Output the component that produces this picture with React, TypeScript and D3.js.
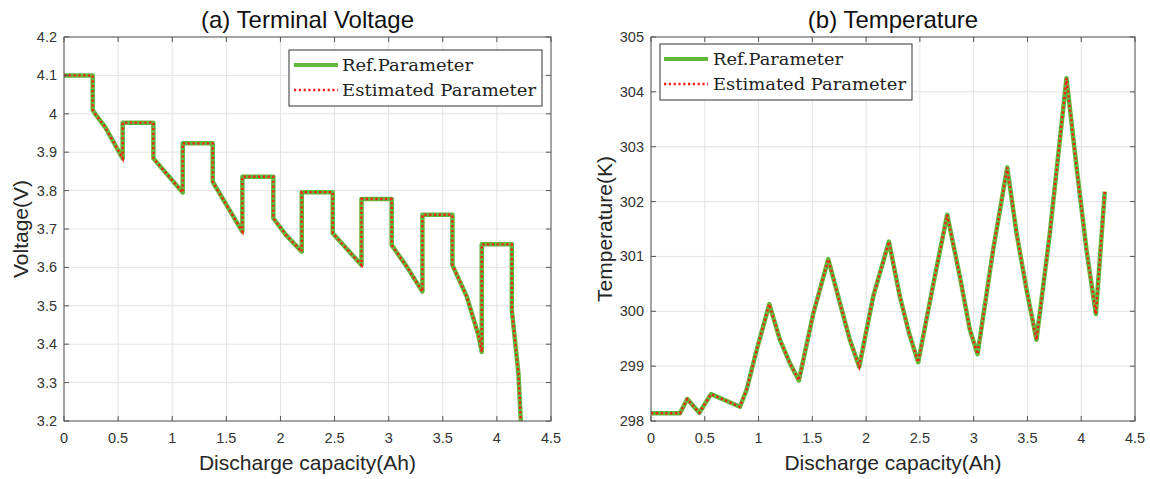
import React from "react";
import * as d3 from "d3";

// ---- Data ----
const voltX = [0, 0.265, 0.265, 0.30, 0.379, 0.542, 0.542, 0.826, 0.826, 1.097, 1.097, 1.374, 1.374, 1.648, 1.648, 1.934, 1.934, 2.058, 2.197, 2.197, 2.483, 2.483, 2.749, 2.749, 3.028, 3.028, 3.167, 3.312, 3.312, 3.589, 3.589, 3.722, 3.829, 3.860, 3.860, 4.138, 4.138, 4.199, 4.221];
const voltY = [4.1, 4.1, 4.01, 3.995, 3.966, 3.884, 3.977, 3.977, 3.884, 3.795, 3.923, 3.923, 3.823, 3.693, 3.836, 3.836, 3.728, 3.682, 3.641, 3.796, 3.796, 3.689, 3.606, 3.778, 3.778, 3.658, 3.602, 3.537, 3.737, 3.737, 3.606, 3.524, 3.424, 3.380, 3.660, 3.660, 3.489, 3.324, 3.2];

const tempX = [0, 0.27, 0.337, 0.449, 0.558, 0.827, 0.889, 0.982, 1.10, 1.199, 1.292, 1.375, 1.509, 1.648, 1.757, 1.849, 1.936, 2.066, 2.212, 2.314, 2.40, 2.484, 2.62, 2.754, 2.872, 2.965, 3.036, 3.181, 3.312, 3.399, 3.492, 3.584, 3.708, 3.863, 3.956, 4.049, 4.136, 4.219];
const tempY = [298.14, 298.14, 298.40, 298.15, 298.49, 298.26, 298.57, 299.29, 300.13, 299.48, 299.05, 298.74, 299.96, 300.95, 300.15, 299.48, 298.99, 300.27, 301.27, 300.27, 299.6, 299.07, 300.45, 301.76, 300.63, 299.66, 299.22, 301.12, 302.62, 301.42, 300.39, 299.48, 301.42, 304.25, 302.64, 301.12, 299.95, 302.18];

const xTicks = [0, 0.5, 1, 1.5, 2, 2.5, 3, 3.5, 4, 4.5];
const voltTicks = [3.2, 3.3, 3.4, 3.5, 3.6, 3.7, 3.8, 3.9, 4, 4.1, 4.2];
const tempTicks = [298, 299, 300, 301, 302, 303, 304, 305];
const legendLabels = ["Ref.Parameter", "Estimated Parameter"];

const SANS = "'Liberation Sans', Arial, Helvetica, sans-serif";
const SERIF = "'DejaVu Serif', 'Liberation Serif', serif";
const GREEN = "#62b83a";
const RED = "#ff1a1a";

type PanelProps = {
  id: string;
  left: number; right: number; top: number; bottom: number;
  xs: number[]; ys: number[];
  yDomain: [number, number];
  yTicks: number[];
  yFmt: (v: number) => string;
  title: string; yLabel: string; yLabelX: number;
  legend: { x0: number; y0: number; x1: number; y1: number; lx0: number; lx1: number; tx: number; r1: number; r2: number; w1: number; w2: number };
};

function Panel(p: PanelProps) {
  const x = d3.scaleLinear().domain([0, 4.5]).range([p.left, p.right]);
  const y = d3.scaleLinear().domain(p.yDomain).range([p.bottom, p.top]);
  const pts = p.xs.map((v, i) => [v, p.ys[i]] as [number, number]);
  const line = d3.line<[number, number]>().x(d => x(d[0])).y(d => y(d[1]));
  const path = line(pts) || "";
  const cx = (p.left + p.right) / 2;
  const cy = (p.top + p.bottom) / 2;
  const L = p.legend;
  const tl = 5;
  return (
    <g>
      <defs>
        <clipPath id={p.id}>
          <rect x={p.left} y={p.top} width={p.right - p.left} height={p.bottom - p.top} />
        </clipPath>
      </defs>
      <rect x={p.left} y={p.top} width={p.right - p.left} height={p.bottom - p.top} fill="#fff" />
      {xTicks.map(t => (
        <line key={"gx" + t} x1={x(t)} x2={x(t)} y1={p.top} y2={p.bottom} stroke="#e3e3e3" strokeWidth={1} />
      ))}
      {p.yTicks.map(t => (
        <line key={"gy" + t} x1={p.left} x2={p.right} y1={y(t)} y2={y(t)} stroke="#e3e3e3" strokeWidth={1} />
      ))}
      <g clipPath={`url(#${p.id})`}>
        <path d={path} fill="none" stroke={GREEN} strokeWidth={4.5} strokeLinejoin="round" />
        <path d={path} fill="none" stroke={RED} strokeWidth={2.4} strokeDasharray="2.2 2.6" />
      </g>
      <rect x={p.left} y={p.top} width={p.right - p.left} height={p.bottom - p.top} fill="none" stroke="#555" strokeWidth={1} />
      {xTicks.map(t => (
        <g key={"tx" + t}>
          <line x1={x(t)} x2={x(t)} y1={p.bottom} y2={p.bottom - tl} stroke="#555" />
          <line x1={x(t)} x2={x(t)} y1={p.top} y2={p.top + tl} stroke="#555" />
          <text x={x(t)} y={p.bottom + 22} textAnchor="middle" fontFamily={SANS} fontSize={14.5} fill="#333">{String(t)}</text>
        </g>
      ))}
      {p.yTicks.map(t => (
        <g key={"ty" + t}>
          <line x1={p.left} x2={p.left + tl} y1={y(t)} y2={y(t)} stroke="#555" />
          <line x1={p.right} x2={p.right - tl} y1={y(t)} y2={y(t)} stroke="#555" />
          <text x={p.left - 7} y={y(t) + 5} textAnchor="end" fontFamily={SANS} fontSize={14.5} fill="#333">{p.yFmt(t)}</text>
        </g>
      ))}
      <text x={cx} y={28} textAnchor="middle" fontFamily={SANS} fontSize={24} fill="#111">{p.title}</text>
      <text x={cx} y={470} textAnchor="middle" fontFamily={SANS} fontSize={21} fill="#262626">Discharge capacity(Ah)</text>
      <text transform={`translate(${p.yLabelX},${cy}) rotate(-90)`} textAnchor="middle" fontFamily={SANS} fontSize={21} fill="#262626">{p.yLabel}</text>
      <rect x={L.x0} y={L.y0} width={L.x1 - L.x0} height={L.y1 - L.y0} fill="#fff" stroke="#333" strokeWidth={1} />
      <line x1={L.lx0} x2={L.lx1} y1={L.r1} y2={L.r1} stroke={GREEN} strokeWidth={4} />
      <line x1={L.lx0} x2={L.lx1} y1={L.r2} y2={L.r2} stroke={RED} strokeWidth={2.4} strokeDasharray="2.2 2.6" />
      <text x={L.tx} y={L.r1 + 6} fontFamily={SERIF} fontSize={16.5} fill="#222" textLength={L.w1} lengthAdjust="spacingAndGlyphs">{legendLabels[0]}</text>
      <text x={L.tx} y={L.r2 + 6} fontFamily={SERIF} fontSize={16.5} fill="#222" textLength={L.w2} lengthAdjust="spacingAndGlyphs">{legendLabels[1]}</text>
    </g>
  );
}

export default function App() {
  return (
    <svg width={1150} height={479} style={{ position: "absolute", left: 0, top: 0, background: "#fff" }}>
      <rect x={0} y={0} width={1150} height={479} fill="#fff" />
      <Panel
        id="clipA"
        left={64} right={551} top={37} bottom={421}
        xs={voltX} ys={voltY}
        yDomain={[3.2, 4.2]}
        yTicks={voltTicks}
        yFmt={v => (Math.abs(v - 4) < 1e-9 ? "4" : v.toFixed(1))}
        title="(a) Terminal Voltage"
        yLabel="Voltage(V)"
        yLabelX={28}
        legend={{ x0: 289, y0: 50, x1: 542, y1: 106, lx0: 294, lx1: 338, tx: 342, r1: 65, r2: 90, w1: 131, w2: 194 }}
      />
      <Panel
        id="clipB"
        left={651} right={1135} top={37} bottom={421}
        xs={tempX} ys={tempY}
        yDomain={[298, 305]}
        yTicks={tempTicks}
        yFmt={v => String(v)}
        title="(b) Temperature"
        yLabel="Temperature(K)"
        yLabelX={612}
        legend={{ x0: 660, y0: 44, x1: 912, y1: 100, lx0: 664, lx1: 708, tx: 713, r1: 59, r2: 84, w1: 130, w2: 193 }}
      />
    </svg>
  );
}
